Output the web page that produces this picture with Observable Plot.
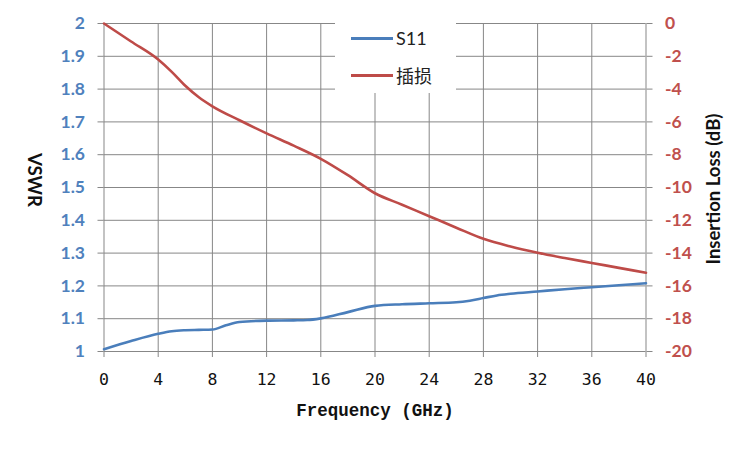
<!DOCTYPE html>
<html>
<head>
<meta charset="utf-8">
<script src="https://cdn.jsdelivr.net/npm/d3@7"></script>
<script src="https://cdn.jsdelivr.net/npm/@observablehq/plot@0.6"></script>
<style>
  body { margin: 0; background: #fff; }
  #wrap { position: relative; width: 750px; height: 450px; overflow: hidden; background: #fff; }
  .ov { position: absolute; white-space: nowrap; }
</style>
</head>
<body>
<div id="wrap"></div>
<script>
// ---- data ----
const s11Freq = [0, 2, 4, 5, 6, 7, 8, 9, 10, 12, 14, 15, 16, 18, 20, 22, 24, 26, 27, 28, 29, 30, 32, 34, 36, 38, 40];
const s11Vswr = [1.007, 1.032, 1.054, 1.062, 1.065, 1.066, 1.067, 1.08, 1.09, 1.094, 1.095, 1.096, 1.101, 1.12, 1.139, 1.144, 1.147, 1.15, 1.155, 1.163, 1.171, 1.176, 1.183, 1.19, 1.196, 1.202, 1.208];
const lossFreq = [0, 2, 4, 5, 6, 7, 8, 10, 12, 14, 16, 18, 20, 22, 24, 26, 28, 30, 32, 34, 36, 38, 40];
const lossDb = [0, -1.1, -2.2, -2.95, -3.8, -4.5, -5.05, -5.9, -6.7, -7.45, -8.25, -9.25, -10.35, -11.05, -11.75, -12.45, -13.13, -13.6, -13.98, -14.3, -14.6, -14.9, -15.2];
const xTicks = [0, 4, 8, 12, 16, 20, 24, 28, 32, 36, 40];
const vswrTicks = [1, 1.1, 1.2, 1.3, 1.4, 1.5, 1.6, 1.7, 1.8, 1.9, 2];
const lossTicks = [0, -2, -4, -6, -8, -10, -12, -14, -16, -18, -20];
const seriesNames = ["S11", "插损"];
const xTitle = "Frequency (GHz)";
const yLeftTitle = "VSWR";
const yRightTitle = "Insertion Loss (dB)";

// map loss (dB, 0..-20) onto the VSWR scale (2..1)
const lossToV = d => 2 + d / 20;

const s11Data = s11Freq.map((f, i) => ({f, v: s11Vswr[i]}));
const lossData = lossFreq.map((f, i) => ({f, v: lossToV(lossDb[i])}));

const BLUE = "#4A7EBB", RED = "#BE4B48", GRID = "#878787";

const chart = Plot.plot({
  width: 750,
  height: 450,
  marginLeft: 103.5,
  marginRight: 104.5,
  marginTop: 23,
  marginBottom: 99,
  style: {background: "#fff", overflow: "visible"},
  x: {domain: [0, 40]},
  y: {domain: [1, 2]},
  marks: [
    Plot.gridX(xTicks, {stroke: GRID, strokeOpacity: 1, strokeWidth: 1}),
    Plot.gridY(vswrTicks, {stroke: GRID, strokeOpacity: 1, strokeWidth: 1}),
    Plot.axisX(xTicks, {
      tickSize: 6, tickPadding: 16, stroke: GRID, fill: "#111",
      fontFamily: "DejaVu Sans Mono", fontSize: 16.5, label: null,
      tickFormat: d => String(d)
    }),
    Plot.axisY(vswrTicks, {
      anchor: "left", tickSize: 6, tickPadding: 13, stroke: GRID, fill: "#4F81BD",
      fontFamily: "Lato", fontWeight: "bold", fontSize: 17.5, label: null,
      tickFormat: d => String(+d.toFixed(1))
    }),
    Plot.axisY(lossTicks.map(lossToV), {
      anchor: "right", tickSize: 6, tickPadding: 13, stroke: GRID, fill: "#C0504D",
      fontFamily: "Lato", fontWeight: "bold", fontSize: 17.5, label: null,
      tickFormat: v => String(Math.round((v - 2) * 20))
    }),
    Plot.line(s11Data, {x: "f", y: "v", stroke: BLUE, strokeWidth: 2.6, curve: "monotone-x"}),
    Plot.line(lossData, {x: "f", y: "v", stroke: RED, strokeWidth: 2.6, curve: "monotone-x"})
  ]
});

const wrap = document.getElementById("wrap");
wrap.appendChild(chart);

function ov(html, css) {
  const d = document.createElement("div");
  d.className = "ov";
  d.innerHTML = html;
  Object.assign(d.style, css);
  wrap.appendChild(d);
  return d;
}

// legend box (inside plot, top centre)
ov("", {left: "335px", top: "20px", width: "121px", height: "73px", background: "#fff"});
[[BLUE, seriesNames[0], 38], [RED, seriesNames[1], 75]].forEach(([c, name, y]) => {
  ov("", {left: "351px", top: (y - 1.5) + "px", width: "42px", height: "3px", background: c});
  ov(name, {left: "396px", top: (y - 12) + "px", fontFamily: name === "S11" ? "Lato" : "'Noto Sans CJK SC'",
    fontSize: "18px", lineHeight: "24px", color: "#222"});
});

// axis titles
ov(xTitle, {left: "375px", top: "411px", transform: "translate(-50%,-50%)",
  fontFamily: "'Liberation Mono'", fontSize: "17.5px", color: "#111", fontWeight: "bold"});
ov(yLeftTitle, {left: "35px", top: "180px", transform: "translate(-50%,-50%) rotate(90deg)",
  fontFamily: "Lato", fontWeight: "bold", fontSize: "18.5px", color: "#111"});
ov(yRightTitle, {left: "713px", top: "189px", transform: "translate(-50%,-50%) rotate(-90deg)",
  fontFamily: "Lato", fontWeight: "bold", fontSize: "18.5px", color: "#111"});
</script>
</body>
</html>
